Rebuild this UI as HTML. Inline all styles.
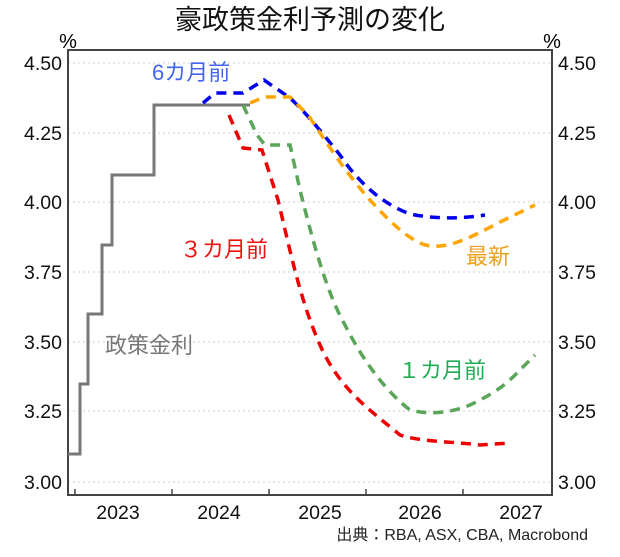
<!DOCTYPE html><html><head><style>body{margin:0;background:#fff}</style></head><body>
<svg width="620" height="552" xmlns="http://www.w3.org/2000/svg" font-family="Liberation Sans, Noto Sans CJK JP, sans-serif">
<text x="310" y="29" font-size="27" text-anchor="middle" fill="#111">豪政策金利予測の変化</text>
<text x="68" y="48" font-size="20" text-anchor="middle">%</text>
<text x="552" y="48" font-size="20" text-anchor="middle">%</text>
<g stroke="#ccc" stroke-dasharray="2,3" stroke-width="1">
<line x1="68" x2="552" y1="63" y2="63"/><line x1="68" x2="552" y1="133" y2="133"/><line x1="68" x2="552" y1="202" y2="202"/><line x1="68" x2="552" y1="272" y2="272"/><line x1="68" x2="552" y1="342" y2="342"/><line x1="68" x2="552" y1="411" y2="411"/><line x1="68" x2="552" y1="482" y2="482"/></g>
<rect x="68" y="50" width="484" height="445" fill="none" stroke="#444" stroke-width="2"/>
<g stroke="#444" stroke-width="1.5"><line x1="75" x2="75" y1="495" y2="489"/><line x1="172" x2="172" y1="495" y2="489"/><line x1="269" x2="269" y1="495" y2="489"/><line x1="366" x2="366" y1="495" y2="489"/><line x1="463" x2="463" y1="495" y2="489"/></g>
<g font-size="19.5" fill="#111">
<g text-anchor="end"><text x="62" y="70">4.50</text><text x="62" y="140">4.25</text><text x="62" y="209">4.00</text><text x="62" y="279">3.75</text><text x="62" y="349">3.50</text><text x="62" y="418">3.25</text><text x="62" y="489">3.00</text></g>
<g><text x="558" y="70">4.50</text><text x="558" y="140">4.25</text><text x="558" y="209">4.00</text><text x="558" y="279">3.75</text><text x="558" y="349">3.50</text><text x="558" y="418">3.25</text><text x="558" y="489">3.00</text></g>
<g text-anchor="middle"><text x="118" y="519">2023</text><text x="219" y="519">2024</text><text x="320" y="519">2025</text><text x="420" y="519">2026</text><text x="521" y="519">2027</text></g>
</g>
<text x="588" y="540" font-size="16" text-anchor="end" fill="#222">出典：RBA, ASX, CBA, Macrobond</text>
<polyline fill="none" stroke="#777" stroke-width="3" points="68,454 80,454 80,384 88,384 88,314 102,314 102,245 112,245 112,175 154,175 154,105 250,105"/>
<g fill="none" stroke-width="3.5" stroke-dasharray="10,7">
<path stroke="#0000ee" d="M203,103 L215,93 L243,93 L264,80 L290,98 C305,112 320,130 340,155 C360,185 385,205 410,214 C440,220 465,218 485,215"/>
<path stroke="#ffa500" d="M250,103 L265,97 L290,97 L308,115 C325,140 345,172 370,200 C395,228 415,244 430,246 C450,248 470,238 500,222 L535,205"/>
<path stroke="#ee0000" d="M229,115 L243,148 L262,150 L278,200 C290,250 300,300 320,345 C340,390 370,410 400,435 C420,442 460,442 480,445 L510,443"/>
<path stroke="#5aa55a" d="M243,105 L257,135 L265,145 L290,145 L300,190 C310,230 325,290 345,325 C365,365 390,395 410,410 C430,415 450,413 470,405 C495,393 505,385 515,375 L535,355"/>
</g>
<g font-size="22">
<text x="152" y="80" fill="#4466ee">6カ月前</text>
<text x="180" y="257" fill="#ee1111">３カ月前</text>
<text x="466" y="264" fill="#f0a020">最新</text>
<text x="398" y="378" fill="#22aa55">１カ月前</text>
<text x="105" y="353" fill="#777">政策金利</text>
</g>
</svg></body></html>
